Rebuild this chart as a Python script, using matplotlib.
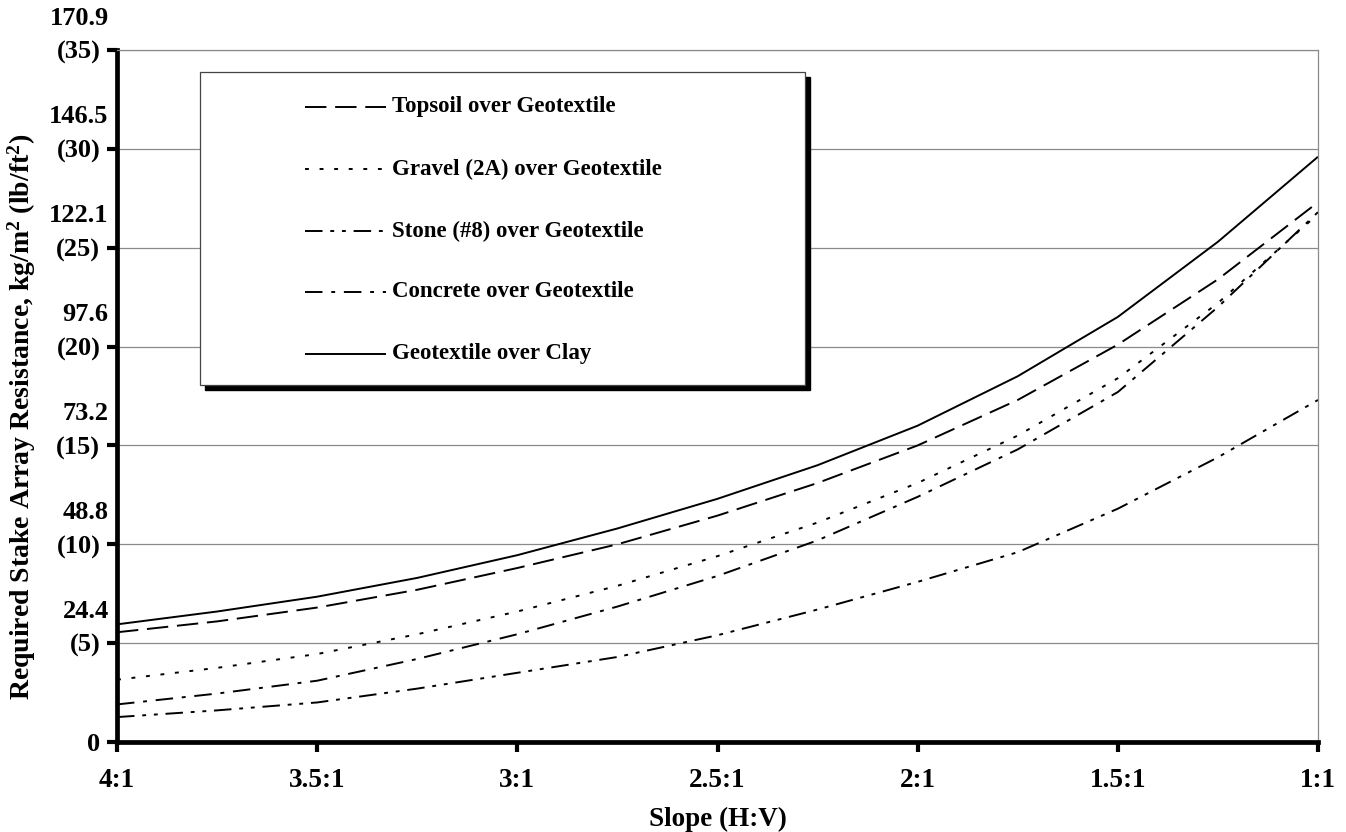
import matplotlib
matplotlib.use("Agg")
import matplotlib.pyplot as plt
from matplotlib.patches import Rectangle
from matplotlib.lines import Line2D

plt.rcParams['font.family'] = ['Liberation Serif', 'DejaVu Serif']
plt.rcParams['font.weight'] = 'bold'
plt.rcParams['mathtext.fontset'] = 'custom'
plt.rcParams['mathtext.rm'] = 'Liberation Serif:bold'
plt.rcParams['mathtext.default'] = 'rm'

# Slope H in H:V (1 vertical)
slope_h = [4.0, 3.75, 3.5, 3.25, 3.0, 2.75, 2.5, 2.25, 2.0, 1.75, 1.5, 1.25, 1.0]
x_ticks = [4.0, 3.5, 3.0, 2.5, 2.0, 1.5, 1.0]
x_labels = ["4:1", "3.5:1", "3:1", "2.5:1", "2:1", "1.5:1", "1:1"]

y_ticks = [0, 5, 10, 15, 20, 25, 30, 35]
y_labels_lb = ["0", "(5)", "(10)", "(15)", "(20)", "(25)", "(30)", "(35)"]
y_labels_kg = ["", "24.4", "48.8", "73.2", "97.6", "122.1", "146.5", "170.9"]

# Required stake array resistance (lb/ft^2)
topsoil = [5.55, 6.1, 6.8, 7.7, 8.8, 10.0, 11.45, 13.1, 15.0, 17.3, 20.1, 23.4, 27.3]
gravel = [3.15, 3.75, 4.45, 5.45, 6.6, 7.9, 9.4, 11.1, 13.1, 15.5, 18.4, 22.2, 26.7]
stone = [1.26, 1.6, 2.0, 2.7, 3.5, 4.3, 5.4, 6.7, 8.1, 9.6, 11.8, 14.4, 17.3]
concrete = [1.9, 2.45, 3.1, 4.2, 5.45, 6.85, 8.4, 10.2, 12.4, 14.8, 17.7, 22.0, 26.8]
clay = [5.95, 6.6, 7.35, 8.3, 9.45, 10.8, 12.3, 14.0, 16.0, 18.5, 21.5, 25.3, 29.6]

series_names = ["Topsoil over Geotextile", "Gravel (2A) over Geotextile",
                "Stone (#8) over Geotextile", "Concrete over Geotextile",
                "Geotextile over Clay"]

W, H = 1346, 832
fig = plt.figure(figsize=(W / 100, H / 100), dpi=100)
ax_l, ax_r, ax_t, ax_b = 117, 1318, 50, 742
ax = fig.add_axes([ax_l / W, (H - ax_b) / H, (ax_r - ax_l) / W, (ax_b - ax_t) / H])

lw = 1.4
styles = [
    (0, (11, 4.5)),
    (0, (2, 5.5)),
    (0, (9, 4, 2, 4, 2, 4)),
    (0, (9, 4.5, 2, 4.5)),
    '-',
]
data = [topsoil, gravel, stone, concrete, clay]
for name, vals, ls in zip(series_names, data, styles):
    ax.plot(slope_h, vals, color='black', lw=lw, linestyle=ls, label=name,
            solid_capstyle='butt', dash_capstyle='butt')

ax.set_xlim(4.0, 1.0)
ax.set_ylim(0, 35)
ax.set_xticks(x_ticks)
ax.set_xticklabels(x_labels, fontsize=19.5, fontweight='bold')
ax.set_yticks(y_ticks)
ax.set_yticklabels(y_labels_lb, fontsize=19, fontweight='bold')

for v, lab in zip(y_ticks, y_labels_kg):
    if lab:
        ax.annotate(lab, xy=(0, v), xycoords=('axes fraction', 'data'),
                    xytext=(-6, 23), textcoords='offset points',
                    ha='right', va='center', fontsize=19, fontweight='bold')

ax.grid(axis='y', color='#8a8a8a', lw=0.9)
ax.set_axisbelow(True)
ax.spines['left'].set_linewidth(3.4)
ax.spines['bottom'].set_linewidth(3.4)
ax.spines['right'].set_linewidth(0.9)
ax.spines['right'].set_color('#8a8a8a')
ax.spines['top'].set_linewidth(0.9)
ax.spines['top'].set_color('#8a8a8a')
ax.tick_params(axis='both', direction='out', width=3, length=7, color='black')
ax.tick_params(axis='x', pad=12)
ax.tick_params(axis='y', pad=5)

ax.set_xlabel("Slope (H:V)", fontsize=19.5, fontweight='bold', labelpad=10)
ax.set_ylabel("Required Stake Array Resistance, kg/m$^2$ (lb/ft$^2$)",
              fontsize=20, fontweight='bold')
ax.yaxis.set_label_coords((38 - ax_l) / (ax_r - ax_l), (ax_b - 417) / (ax_b - ax_t))

# Manual legend box (axes-fraction coordinates from pixel layout)
def fx(px):
    return (px - ax_l) / (ax_r - ax_l)

def fy(py):
    return (ax_b - py) / (ax_b - ax_t)

bx0, bx1, by0, by1 = 200, 805, 72, 385
shadow = Rectangle((fx(bx0 + 5), fy(by1 + 5)), fx(bx1) - fx(bx0), fy(by0) - fy(by1),
                   transform=ax.transAxes, facecolor='black', edgecolor='black',
                   zorder=8, clip_on=False)
ax.add_patch(shadow)
box = Rectangle((fx(bx0), fy(by1)), fx(bx1) - fx(bx0), fy(by0) - fy(by1),
                transform=ax.transAxes, facecolor='white', edgecolor='#444444',
                lw=0.9, zorder=9, clip_on=False)
ax.add_patch(box)
row_y = [107, 169, 231, 292, 354]
for name, ls, py in zip(series_names, styles, row_y):
    ax.add_line(Line2D([fx(305), fx(386)], [fy(py), fy(py)], transform=ax.transAxes,
                       color='black', lw=lw, linestyle=ls, zorder=10,
                       solid_capstyle='butt', dash_capstyle='butt', clip_on=False))
    ax.text(fx(392), fy(py), name, transform=ax.transAxes, fontsize=16.5,
            fontweight='bold', ha='left', va='center', zorder=10)

fig.savefig("out.png", dpi=100)
